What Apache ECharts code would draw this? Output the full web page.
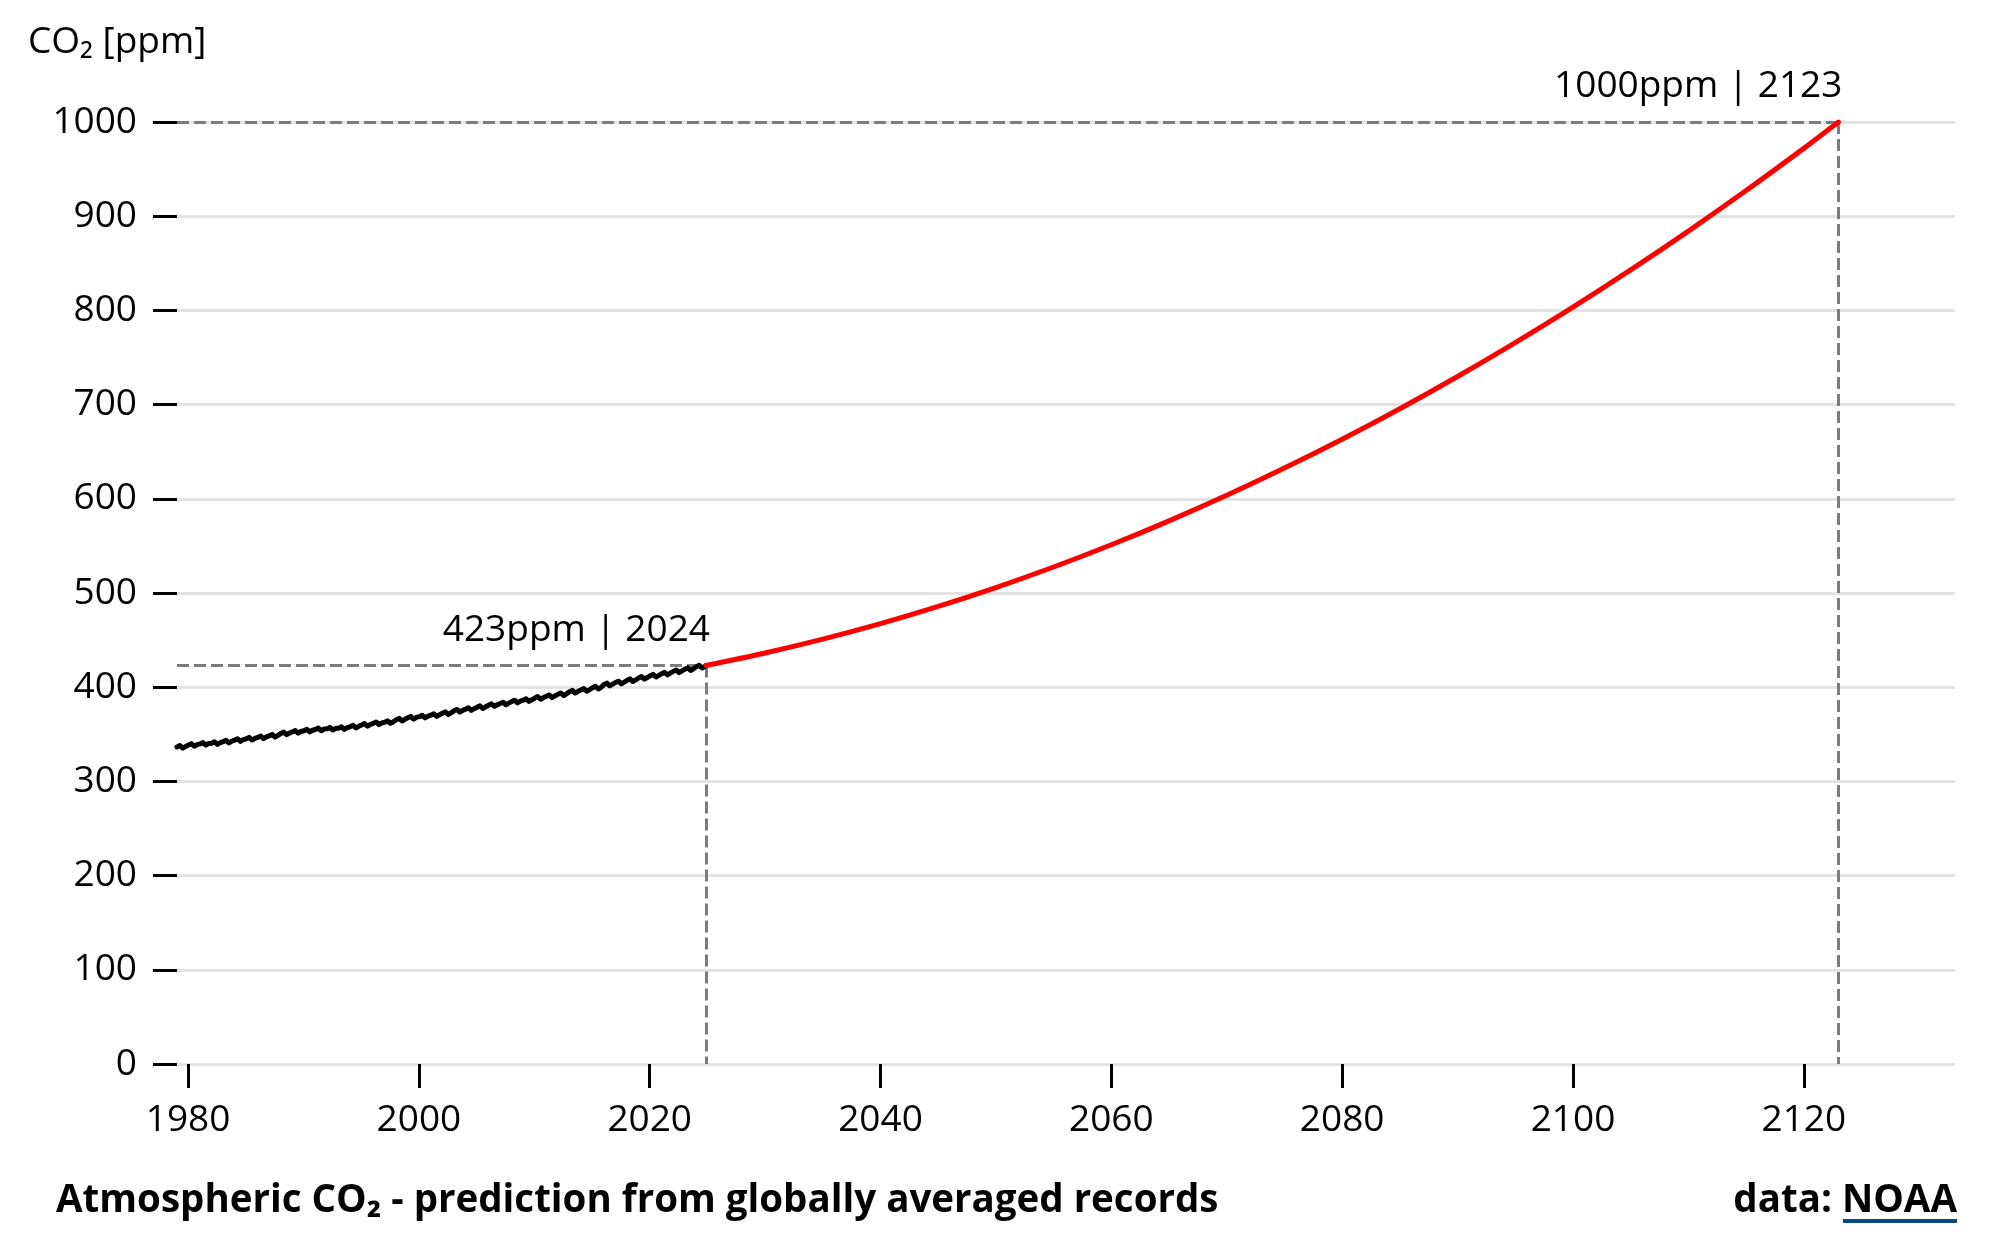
<!DOCTYPE html>
<html>
<head>
<meta charset="utf-8">
<title>Atmospheric CO2</title>
<script src="https://cdn.jsdelivr.net/npm/echarts@6/dist/echarts.min.js"></script>
<style>
  html, body { margin: 0; padding: 0; background: #fff; }
  #chart { width: 2003px; height: 1247px; }
</style>
</head>
<body>
<div id="chart"></div>
<script>
// NOAA globally averaged monthly means (ppm), one row per year, Jan..Dec
var firstYear = 1979;
var monthlyCO2 = [
    [336.6, 337.2, 337.6, 338.1, 337.9, 336.9, 335.3, 334.5, 335.3, 337.1, 338.1, 338.2], // 1979
    [338.6, 339.2, 339.6, 340.1, 339.9, 338.9, 337.3, 336.5, 337.3, 339.1, 340.1, 340.2],
    [339.8, 340.4, 340.8, 341.3, 341.1, 340.1, 338.5, 337.7, 338.5, 340.3, 341.3, 341.4],
    [340.6, 341.2, 341.6, 342.1, 341.9, 340.9, 339.3, 338.5, 339.3, 341.1, 342.1, 342.2],
    [342.2, 342.8, 343.2, 343.7, 343.5, 342.5, 340.9, 340.1, 340.9, 342.7, 343.7, 343.8],
    [343.8, 344.4, 344.8, 345.3, 345.1, 344.1, 342.5, 341.7, 342.5, 344.3, 345.3, 345.4],
    [345.2, 345.8, 346.2, 346.7, 346.5, 345.5, 343.9, 343.1, 343.9, 345.7, 346.7, 346.8],
    [346.7, 347.3, 347.7, 348.2, 348.0, 347.0, 345.4, 344.6, 345.4, 347.2, 348.2, 348.3],
    [348.4, 349.0, 349.4, 349.9, 349.7, 348.7, 347.1, 346.3, 347.1, 348.9, 349.9, 350.0],
    [350.9, 351.5, 351.9, 352.4, 352.2, 351.2, 349.6, 348.8, 349.6, 351.4, 352.4, 352.5], // 1988
    [352.5, 353.1, 353.5, 354.0, 353.8, 352.8, 351.2, 350.4, 351.2, 353.0, 354.0, 354.1],
    [353.8, 354.4, 354.8, 355.3, 355.1, 354.1, 352.5, 351.7, 352.5, 354.3, 355.3, 355.4],
    [355.1, 355.7, 356.1, 356.6, 356.4, 355.4, 353.8, 353.0, 353.8, 355.6, 356.6, 356.7],
    [355.8, 356.4, 356.8, 357.3, 357.1, 356.1, 354.5, 353.7, 354.5, 356.3, 357.3, 357.4],
    [356.5, 357.1, 357.5, 358.0, 357.8, 356.8, 355.2, 354.4, 355.2, 357.0, 358.0, 358.1],
    [358.0, 358.6, 359.0, 359.5, 359.3, 358.3, 356.7, 355.9, 356.7, 358.5, 359.5, 359.6],
    [359.9, 360.5, 360.9, 361.4, 361.2, 360.2, 358.6, 357.8, 358.6, 360.4, 361.4, 361.5],
    [361.6, 362.2, 362.6, 363.1, 362.9, 361.9, 360.3, 359.5, 360.3, 362.1, 363.1, 363.2],
    [362.8, 363.4, 363.8, 364.3, 364.1, 363.1, 361.5, 360.7, 361.5, 363.3, 364.3, 364.4],
    [365.4, 366.0, 366.4, 366.9, 366.7, 365.7, 364.1, 363.3, 364.1, 365.9, 366.9, 367.0], // 1998
    [367.5, 368.1, 368.5, 369.0, 368.8, 367.8, 366.2, 365.4, 366.2, 368.0, 369.0, 369.1],
    [368.7, 369.3, 369.7, 370.2, 370.0, 369.0, 367.4, 366.6, 367.4, 369.2, 370.2, 370.3],
    [370.3, 370.9, 371.3, 371.8, 371.6, 370.6, 369.0, 368.2, 369.0, 370.8, 371.8, 371.9],
    [372.3, 372.9, 373.3, 373.8, 373.6, 372.6, 371.0, 370.2, 371.0, 372.8, 373.8, 373.9],
    [374.9, 375.5, 375.9, 376.4, 376.2, 375.2, 373.6, 372.8, 373.6, 375.4, 376.4, 376.5],
    [376.7, 377.3, 377.7, 378.2, 378.0, 377.0, 375.4, 374.6, 375.4, 377.2, 378.2, 378.3],
    [378.7, 379.3, 379.7, 380.2, 380.0, 379.0, 377.4, 376.6, 377.4, 379.2, 380.2, 380.3],
    [380.9, 381.5, 381.9, 382.4, 382.2, 381.2, 379.6, 378.8, 379.6, 381.4, 382.4, 382.5],
    [382.6, 383.2, 383.6, 384.1, 383.9, 382.9, 381.3, 380.5, 381.3, 383.1, 384.1, 384.2],
    [384.7, 385.3, 385.7, 386.2, 386.0, 385.0, 383.4, 382.6, 383.4, 385.2, 386.2, 386.3], // 2008
    [386.2, 386.8, 387.2, 387.7, 387.5, 386.5, 384.9, 384.1, 384.9, 386.7, 387.7, 387.8],
    [388.5, 389.1, 389.5, 390.0, 389.8, 388.8, 387.2, 386.4, 387.2, 389.0, 390.0, 390.1],
    [390.3, 390.9, 391.3, 391.8, 391.6, 390.6, 389.0, 388.2, 389.0, 390.8, 391.8, 391.9],
    [392.4, 393.0, 393.4, 393.9, 393.7, 392.7, 391.1, 390.3, 391.1, 392.9, 393.9, 394.0],
    [395.1, 395.7, 396.1, 396.6, 396.4, 395.4, 393.8, 393.0, 393.8, 395.6, 396.6, 396.7],
    [397.0, 397.6, 398.0, 398.5, 398.3, 397.3, 395.7, 394.9, 395.7, 397.5, 398.5, 398.6],
    [399.4, 400.0, 400.4, 400.9, 400.7, 399.7, 398.1, 397.3, 398.1, 399.9, 400.9, 401.0],
    [402.8, 403.4, 403.8, 404.3, 404.1, 403.1, 401.5, 400.7, 401.5, 403.3, 404.3, 404.4],
    [404.9, 405.5, 405.9, 406.4, 406.2, 405.2, 403.6, 402.8, 403.6, 405.4, 406.4, 406.5],
    [407.3, 407.9, 408.3, 408.8, 408.6, 407.6, 406.0, 405.2, 406.0, 407.8, 408.8, 408.9], // 2018
    [409.8, 410.4, 410.8, 411.3, 411.1, 410.1, 408.5, 407.7, 408.5, 410.3, 411.3, 411.4],
    [412.1, 412.7, 413.1, 413.6, 413.4, 412.4, 410.8, 410.0, 410.8, 412.6, 413.6, 413.7],
    [414.4, 415.0, 415.4, 415.9, 415.7, 414.7, 413.1, 412.3, 413.1, 414.9, 415.9, 416.0],
    [416.8, 417.4, 417.8, 418.3, 418.1, 417.1, 415.5, 414.7, 415.5, 417.3, 418.3, 418.4],
    [419.0, 419.6, 420.0, 420.5, 420.3, 419.3, 417.7, 416.9, 417.7, 419.5, 420.5, 420.6],
    [421.7, 422.3, 422.7, 423.2, 423.0, 422.0, 420.4, 419.6, 420.4, 422.2, 423.0]           // 2024 (to Nov)
];

// fitted projection
var predYears  = [2024.875, 2030, 2035, 2040, 2045, 2050, 2055, 2060, 2065, 2070, 2075, 2080, 2085, 2090, 2095, 2100, 2105, 2110, 2115, 2120, 2123];
var predValues = [423.0, 436.3, 451.0, 467.5, 485.8, 505.8, 527.6, 551.2, 576.6, 603.7, 632.6, 663.2, 695.6, 729.8, 765.8, 803.5, 843.0, 884.2, 927.2, 972.0, 1000.0];

var xTicks = [1980, 2000, 2020, 2040, 2060, 2080, 2100, 2120];
var xMax = 2133.1;

var font = "'Open Sans', 'Noto Sans', sans-serif";

var measured = [];
for (var i = 0; i < monthlyCO2.length; i++) {
    for (var m = 0; m < monthlyCO2[i].length; m++) {
        measured.push([firstYear + i + (m + 0.5) / 12, monthlyCO2[i][m]]);
    }
}
var predicted = predYears.map(function (y, i) { return [y, predValues[i]]; });

var lastMeas = measured[measured.length - 1];
var lastPred = predicted[predicted.length - 1];
var xMin = measured[0][0];

var dashStyle = { color: '#7c7c7c', width: 3, type: [12, 5] };

function guideLines(pt, text) {
    return [
        [
            { coord: [xMin, pt[1]], symbol: 'none',
              label: { show: true, formatter: text, position: 'insideEndTop' } },
            { coord: [pt[0], pt[1]], symbol: 'none' }
        ],
        [
            { coord: [pt[0], pt[1]], symbol: 'none', label: { show: false } },
            { coord: [pt[0], 0], symbol: 'none' }
        ]
    ];
}

function plain(v) { return String(v); }

var _chart = echarts.init(document.getElementById('chart'));
var option = {
    animation: false,
    textStyle: { fontFamily: font },
    grid: { left: 177, right: 48, top: 122, bottom: 183 },
    xAxis: {
        type: 'value',
        min: xMin,
        max: xMax,
        axisLine: { show: false },
        splitLine: { show: false },
        axisTick: {
            show: true, length: 24, customValues: xTicks,
            lineStyle: { color: '#000', width: 3 }
        },
        axisLabel: {
            customValues: xTicks, margin: 38, formatter: plain,
            color: '#000', fontSize: 37, fontFamily: font
        }
    },
    yAxis: {
        type: 'value',
        min: 0,
        max: 1000,
        interval: 100,
        axisLine: { show: false },
        axisTick: { show: true, length: 24, lineStyle: { color: '#000', width: 3 } },
        axisLabel: { margin: 40, formatter: plain, color: '#000', fontSize: 37, fontFamily: font },
        splitLine: { show: true, lineStyle: { color: '#e3e3e3', width: 3 } }
    },
    series: [
        {
            type: 'line',
            data: measured,
            showSymbol: false,
            z: 3,
            lineStyle: { color: '#000', width: 5, join: 'round', cap: 'round' },
            markLine: {
                silent: true,
                symbol: 'none',
                z: 1,
                lineStyle: dashStyle,
                label: { show: false, color: '#000', fontSize: 37, fontFamily: font, distance: [-4, 17] },
                data: guideLines(lastMeas, '423ppm | 2024')
            }
        },
        {
            type: 'line',
            data: predicted,
            showSymbol: false,
            smooth: 0.3,
            z: 3,
            lineStyle: { color: '#ff0000', width: 5, cap: 'round' },
            markLine: {
                silent: true,
                symbol: 'none',
                z: 1,
                lineStyle: dashStyle,
                label: { show: false, color: '#000', fontSize: 37, fontFamily: font, distance: [-4, 17] },
                data: guideLines(lastPred, '1000ppm | 2123')
            }
        }
    ],
    graphic: [
        {
            type: 'text', left: 28, top: 24,
            style: { text: 'CO₂ [ppm]', fontSize: 37, fontFamily: font, fill: '#000' }
        },
        {
            type: 'text', left: 56, top: 1182,
            style: {
                text: 'Atmospheric CO₂ - prediction from globally averaged records',
                fontSize: 38.5, fontWeight: 'bold', fontFamily: font, fill: '#000'
            }
        },
        {
            type: 'text', right: 46, top: 1182,
            style: {
                text: '{a|data: }{b|NOAA}',
                rich: {
                    a: { fontSize: 38.5, fontWeight: 'bold', fontFamily: font, color: '#000' },
                    b: { fontSize: 38.5, fontWeight: 'bold', fontFamily: font, color: '#0b4a84' }
                }
            }
        },
        {
            type: 'rect', left: 1843, top: 1219,
            shape: { width: 114, height: 4 },
            style: { fill: '#0b4a84' }
        }
    ]
};
_chart.setOption(option);
</script>
</body>
</html>
